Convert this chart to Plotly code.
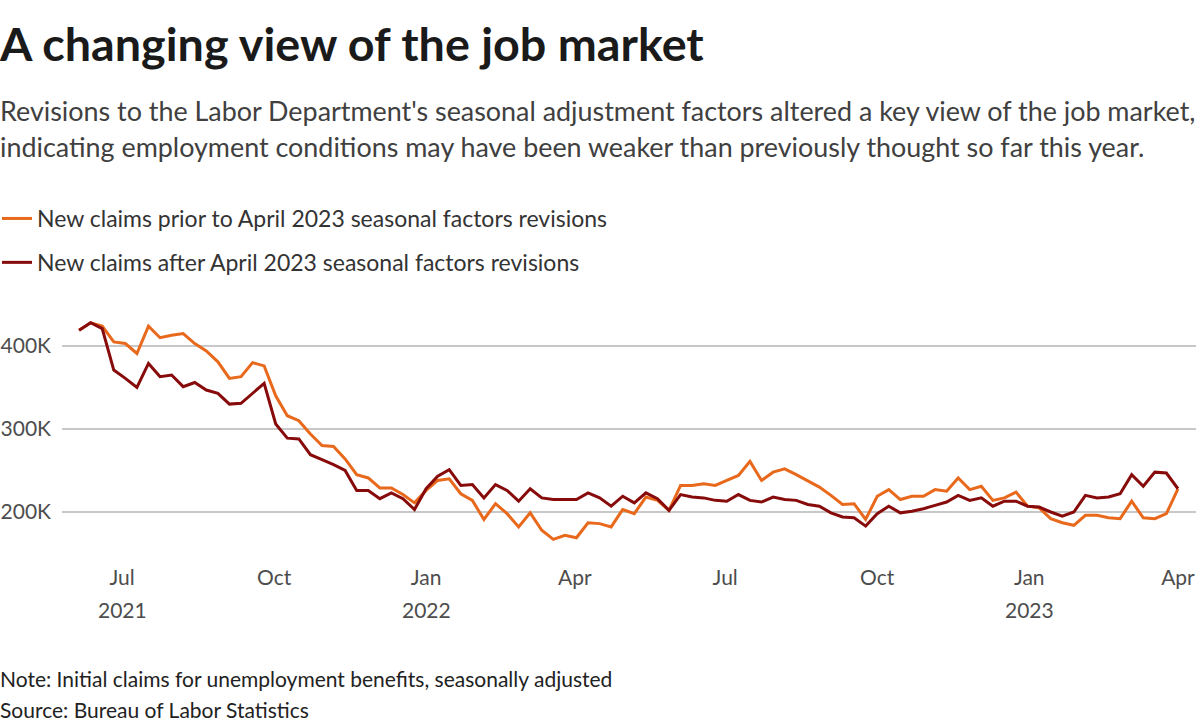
import plotly.graph_objects as go
import pandas as pd

# ---- data ----
start_week = "2021-06-05"  # week ending (Saturday)
n_weeks = 96
weeks = pd.date_range(start=start_week, periods=n_weeks, freq="W-SAT")

prior_revision = [419, 428, 424, 405, 403, 391, 424, 410, 413, 415,
                  403, 394, 381, 361, 363, 380, 376, 340, 316, 310,
                  294, 280, 279, 264, 245, 241, 229, 229, 221, 211,
                  226, 238, 240, 222, 214, 191, 210, 198, 182, 199,
                  178, 167, 172, 169, 187, 186, 182, 203, 198, 218,
                  214, 202, 232, 232, 234, 232, 238, 244, 261, 238,
                  248, 252, 245, 238, 230, 220, 209, 210, 191, 219,
                  227, 215, 219, 219, 227, 225, 241, 227, 231, 214,
                  217, 224, 207, 205, 192, 187, 184, 196, 196, 193,
                  192, 213, 193, 192, 198, 228]

after_revision = [419, 428, 421, 371, 361, 350, 379, 363, 365, 351,
                  356, 347, 343, 330, 331, 343, 355, 306, 289, 288,
                  269, 263, 257, 250, 226, 226, 216, 223, 216, 203,
                  228, 243, 251, 232, 233, 217, 233, 226, 213, 228,
                  217, 215, 215, 215, 223, 217, 207, 219, 211, 223,
                  216, 202, 221, 218, 217, 214, 213, 221, 214, 212,
                  218, 215, 214, 209, 207, 199, 194, 193, 183, 198,
                  207, 199, 201, 204, 208, 212, 220, 214, 217, 207,
                  213, 213, 207, 206, 200, 195, 200, 220, 217, 218,
                  222, 245, 231, 248, 247, 228]

series_names = ["New claims prior to April 2023 seasonal factors revisions",
                "New claims after April 2023 seasonal factors revisions"]

x_tick_dates = ["2021-07-01", "2021-10-01", "2022-01-01", "2022-04-01",
                "2022-07-01", "2022-10-01", "2023-01-01", "2023-04-01"]
x_tick_text = ["Jul", "Oct", "Jan", "Apr", "Jul", "Oct", "Jan", "Apr"]
year_dates = ["2021-07-01", "2022-01-01", "2023-01-01"]
year_text = ["2021", "2022", "2023"]

y_tick_vals = [200, 300, 400]
y_tick_text = ["200K", "300K", "400K"]

title = "A changing view of the job market"
subtitle_lines = [
    "Revisions to the Labor Department's seasonal adjustment factors altered a key view of the job market,",
    "indicating employment conditions may have been weaker than previously thought so far this year.",
]
note_lines = ["Note: Initial claims for unemployment benefits, seasonally adjusted",
              "Source: Bureau of Labor Statistics"]

# ---- styling ----
W, H = 1200, 727
FONT = "Lato"
ORANGE = "#e8691c"
DARK = "#870b0b"
plot_left, plot_right = 62, 1196
plot_top, plot_bottom = 310, 550


def py(ypx):
    return (plot_bottom - ypx) / (plot_bottom - plot_top)


def px(xpx):
    return (xpx - plot_left) / (plot_right - plot_left)


fig = go.Figure()
fig.add_trace(go.Scatter(x=weeks, y=prior_revision, mode="lines", name=series_names[0],
                         legendgroup="g0", line=dict(color=ORANGE, width=3)))
fig.add_trace(go.Scatter(x=weeks, y=after_revision, mode="lines", name=series_names[1],
                         legendgroup="g1", line=dict(color=DARK, width=3)))

annotations = []
for line, yc in zip(subtitle_lines, [110, 146]):
    annotations.append(dict(text=line, x=px(-2), y=py(yc), xref="paper", yref="paper",
                            xanchor="left", yanchor="middle", showarrow=False,
                            font=dict(family=FONT, size=26.9, color="#404040")))
for d, t in zip(year_dates, year_text):
    annotations.append(dict(text=t, x=d, y=py(609), xref="x", yref="paper",
                            xanchor="center", yanchor="middle", showarrow=False,
                            font=dict(family=FONT, size=21, color="#4d4d4d")))
for line, yc in zip(note_lines, [678, 709]):
    annotations.append(dict(text=line, x=px(-2), y=py(yc), xref="paper", yref="paper",
                            xanchor="left", yanchor="middle", showarrow=False,
                            font=dict(family=FONT, size=21, color="#222222")))

fig.update_layout(
    width=W, height=H,
    margin=dict(l=plot_left, r=W - plot_right, t=plot_top, b=H - plot_bottom, pad=0, autoexpand=False),
    paper_bgcolor="white", plot_bgcolor="white",
    title=dict(text="<b>" + title + "</b>", x=0, xref="container", xanchor="left",
               y=1 - 45 / H, yref="container", yanchor="middle", pad=dict(l=0, r=0, t=0, b=0),
               font=dict(family=FONT, size=46.7, color="#1a1a1a")),
    showlegend=True,
    legend=dict(x=px(-3), y=py(197), xref="paper", yref="paper", xanchor="left", yanchor="top",
                font=dict(family=FONT, size=23, color="#333333"), traceorder="grouped",
                tracegroupgap=11, bgcolor="rgba(0,0,0,0)"),
    annotations=annotations,
    xaxis=dict(type="date", range=["2021-05-25 16:00", "2023-04-11 22:00"], automargin=False,
               tickvals=x_tick_dates, ticktext=x_tick_text, showgrid=False, zeroline=False,
               showline=False, ticks="", ticklabelstandoff=13,
               tickfont=dict(family=FONT, size=21, color="#4d4d4d")),
    yaxis=dict(range=[154.2, 443.4], tickvals=y_tick_vals, ticktext=y_tick_text, automargin=False,
               showgrid=True, gridcolor="#c8c8c8", gridwidth=1.5, zeroline=False,
               showline=False, ticks="", ticklabelstandoff=10,
               tickfont=dict(family=FONT, size=21, color="#4d4d4d")),
)

fig.write_html("out.html", config={"displayModeBar": False},
               post_script="document.body.style.margin='0px';")
